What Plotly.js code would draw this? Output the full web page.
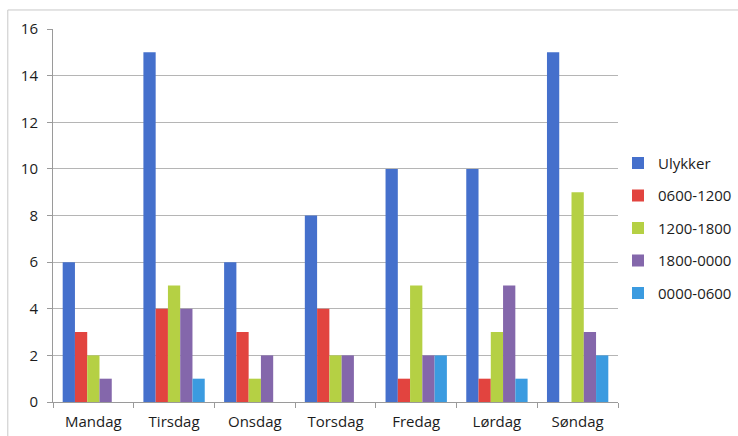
<!DOCTYPE html>
<html>
<head>
<meta charset="utf-8">
<script src="https://cdn.plot.ly/plotly-3.0.1.min.js"></script>
<style>
  html, body { margin: 0; padding: 0; background: #fff; }
  #chart { width: 738px; height: 436px; }
</style>
</head>
<body>
<div id="chart"></div>
<script>
// Ulykker per ukedag, fordelt på tidsrom
const days = ["Mandag", "Tirsdag", "Onsdag", "Torsdag", "Fredag", "Lørdag", "Søndag"];
const ulykker = [6, 15, 6, 8, 10, 10, 15];
const t0600_1200 = [3, 4, 3, 4, 1, 1, 0];
const t1200_1800 = [2, 5, 1, 2, 5, 3, 9];
const t1800_0000 = [1, 4, 2, 2, 2, 5, 3];
const t0000_0600 = [0, 1, 0, 0, 2, 1, 2];
const yTicks = [0, 2, 4, 6, 8, 10, 12, 14, 16];

const series = [
  { name: "Ulykker", y: ulykker, color: "#4570cc" },
  { name: "0600-1200", y: t0600_1200, color: "#e2443f" },
  { name: "1200-1800", y: t1200_1800, color: "#b5d044" },
  { name: "1800-0000", y: t1800_0000, color: "#8467ab" },
  { name: "0000-0600", y: t0000_0600, color: "#3b9be0" }
];

const traces = series.map((s, i) => ({
  type: "bar",
  name: s.name,
  x: days,
  y: s.y,
  legendgroup: "g" + i,
  marker: { color: s.color, line: { width: 0 } }
}));

const family = "Open Sans, Liberation Sans, sans-serif";
const textColor = "#1c1c1c";

const layout = {
  width: 738,
  height: 436,
  margin: { l: 53, r: 120, t: 29, b: 34, autoexpand: false },
  paper_bgcolor: "#fff",
  plot_bgcolor: "#fff",
  font: { family: family, size: 15, color: textColor },
  barmode: "group",
  bargap: 0.24,
  bargroupgap: 0,
  showlegend: true,
  legend: {
    x: 1.0, y: 0.466, xanchor: "left", yanchor: "middle",
    traceorder: "grouped", tracegroupgap: 10,
    font: { family: family, size: 15, color: textColor },
    itemwidth: 30,
    bgcolor: "rgba(0,0,0,0)"
  },
  xaxis: {
    type: "category",
    showgrid: false,
    showline: true, linecolor: "#9a9a9a", linewidth: 1,
    ticks: "outside", tickson: "boundaries", ticklen: 5, tickcolor: "#9a9a9a",
    ticklabelstandoff: 6,
    tickfont: { family: family, size: 15, color: textColor },
    fixedrange: true
  },
  yaxis: {
    range: [0, 16],
    tickvals: yTicks,
    showgrid: true, gridcolor: "#b5b5b5", gridwidth: 1,
    showline: true, linecolor: "#9a9a9a", linewidth: 1,
    ticks: "outside", ticklen: 5, tickcolor: "#9a9a9a",
    ticklabelstandoff: 6,
    tickfont: { family: family, size: 15, color: textColor },
    zeroline: false,
    fixedrange: true
  },
  shapes: [
    {
      type: "rect", xref: "paper", yref: "paper",
      x0: -0.08, x1: 1.4, y0: -0.3, y1: 1.051,
      line: { color: "#c8c8c8", width: 1 }, fillcolor: "rgba(0,0,0,0)",
      layer: "below"
    }
  ]
};

Plotly.newPlot("chart", traces, layout, { displayModeBar: false, staticPlot: true });
</script>
</body>
</html>
